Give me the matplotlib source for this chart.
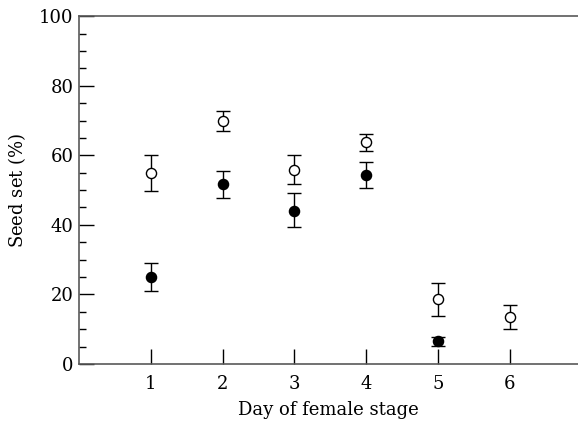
import numpy as np
import matplotlib.pyplot as plt
from matplotlib.ticker import MultipleLocator

plt.rcParams['font.family'] = ['DejaVu Serif']
plt.rcParams['mathtext.fontset'] = 'dejavuserif'

# -- Data --

days = [1, 2, 3, 4, 5, 6]

open_mean = [54.8, 69.9, 55.8, 63.7, 18.8, 13.6]
open_hi = [60.0, 72.6, 60.2, 66.2, 23.4, 17.1]
open_lo = [49.8, 67.0, 51.7, 61.1, 13.9, 10.0]

filled_days = [1, 2, 3, 4, 5]
filled_mean = [25.0, 51.7, 44.1, 54.4, 6.5]
filled_hi = [29.0, 55.6, 49.1, 58.2, 7.8]
filled_lo = [21.1, 47.6, 39.3, 50.5, 5.2]

# -- Plotting code --

fig = plt.figure(figsize=(5.78, 4.25), dpi=100)
ax = fig.add_axes([0.1367, 0.1435, 0.8633, 0.8185])

open_err = [np.subtract(open_mean, open_lo), np.subtract(open_hi, open_mean)]
filled_err = [np.subtract(filled_mean, filled_lo), np.subtract(filled_hi, filled_mean)]

ax.errorbar(days, open_mean, yerr=open_err, fmt='o', mfc='white', mec='black',
            mew=1.0, ms=7.3, ecolor='black', elinewidth=1.0, capsize=5,
            capthick=1.0, zorder=3)
ax.errorbar(filled_days, filled_mean, yerr=filled_err, fmt='o', mfc='black',
            mec='black', ms=7.3, ecolor='black', elinewidth=1.0, capsize=5,
            capthick=1.0, zorder=3)

ax.set_xlim(0, 6.95)
ax.set_ylim(0, 100)

for side in ['left', 'top', 'bottom']:
    ax.spines[side].set_color('0.35')
    ax.spines[side].set_linewidth(1.2)
ax.spines['right'].set_visible(False)

ax.set_xticks(days)
ax.set_yticks([0, 20, 40, 60, 80, 100])
ax.yaxis.set_minor_locator(MultipleLocator(5))
ax.tick_params(axis='x', direction='in', length=11, width=1, colors='black',
               labelsize=13, pad=8, top=False)
ax.tick_params(axis='y', which='major', direction='in', length=11, width=1,
               labelsize=13, pad=4, right=False)
ax.tick_params(axis='y', which='minor', direction='in', length=5, width=1,
               right=False)

ax.set_xlabel('Day of female stage', fontsize=13, labelpad=6)
ax.set_ylabel(r'Seed set $\mathit{(\%)}$', fontsize=13, labelpad=8)

fig.savefig('out.png', dpi=100)
